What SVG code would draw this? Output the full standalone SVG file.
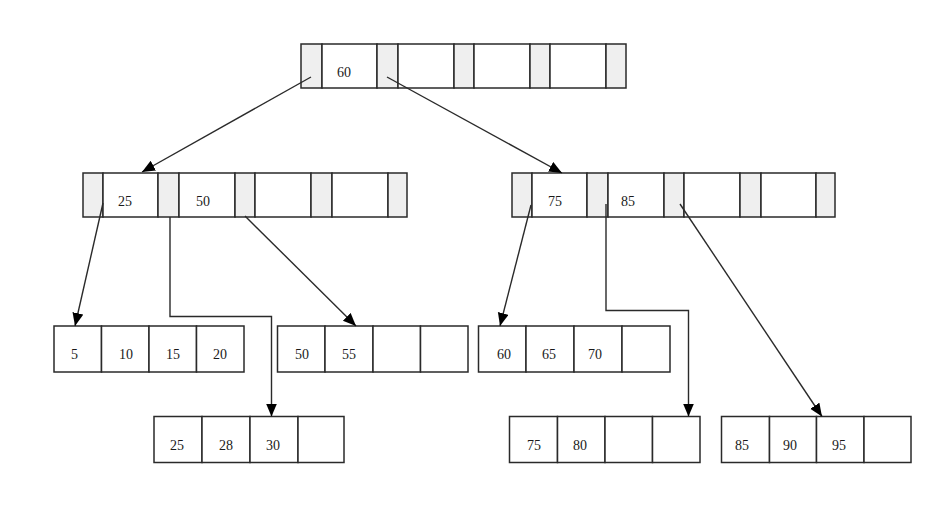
<svg xmlns="http://www.w3.org/2000/svg" width="943" height="517" viewBox="0 0 943 517">
<defs>
<style>
.p{fill:#efefef;stroke:#2a2a2a;stroke-width:1.5}
.k{fill:#fff;stroke:#2a2a2a;stroke-width:1.5}
.t{font-family:"Liberation Serif","Times New Roman",serif;font-size:14px;fill:#1a1a1a}
.c{fill:none;stroke:#2a2a2a;stroke-width:1.4}
</style>
<marker id="ah" markerUnits="userSpaceOnUse" markerWidth="14" markerHeight="12" refX="13" refY="5.5" orient="auto">
<path d="M0,0 L13,5.5 L0,11 z" fill="#000"/>
</marker>
</defs>
<rect width="943" height="517" fill="#fff"/>
<g id="root">
<rect class="p" x="301" y="44" width="21" height="44"/>
<rect class="k" x="322" y="44" width="55" height="44"/>
<rect class="p" x="377" y="44" width="21" height="44"/>
<rect class="k" x="398" y="44" width="56" height="44"/>
<rect class="p" x="454" y="44" width="20" height="44"/>
<rect class="k" x="474" y="44" width="56" height="44"/>
<rect class="p" x="530" y="44" width="20" height="44"/>
<rect class="k" x="550" y="44" width="56" height="44"/>
<rect class="p" x="606" y="44" width="20" height="44"/>
<text class="t" x="337" y="77">60</text>
</g>
<g id="n25_50">
<rect class="p" x="83" y="173" width="20" height="44"/>
<rect class="k" x="103" y="173" width="55" height="44"/>
<rect class="p" x="158" y="173" width="21" height="44"/>
<rect class="k" x="179" y="173" width="56" height="44"/>
<rect class="p" x="235" y="173" width="20" height="44"/>
<rect class="k" x="255" y="173" width="56" height="44"/>
<rect class="p" x="311" y="173" width="21" height="44"/>
<rect class="k" x="332" y="173" width="56" height="44"/>
<rect class="p" x="388" y="173" width="19" height="44"/>
<text class="t" x="118" y="206">25</text>
<text class="t" x="196" y="206">50</text>
</g>
<g id="n75_85">
<rect class="p" x="512" y="173" width="20" height="44"/>
<rect class="k" x="532" y="173" width="55" height="44"/>
<rect class="p" x="587" y="173" width="21" height="44"/>
<rect class="k" x="608" y="173" width="56" height="44"/>
<rect class="p" x="664" y="173" width="20" height="44"/>
<rect class="k" x="684" y="173" width="56" height="44"/>
<rect class="p" x="740" y="173" width="21" height="44"/>
<rect class="k" x="761" y="173" width="55" height="44"/>
<rect class="p" x="816" y="173" width="19" height="44"/>
<text class="t" x="548" y="206">75</text>
<text class="t" x="621" y="206">85</text>
</g>
<g id="leaf5">
<rect class="k" x="54" y="326" width="47.5" height="46"/>
<rect class="k" x="101.5" y="326" width="47.5" height="46"/>
<rect class="k" x="149" y="326" width="47.5" height="46"/>
<rect class="k" x="196.5" y="326" width="47.5" height="46"/>
<text class="t" x="71" y="359">5</text>
<text class="t" x="119" y="359">10</text>
<text class="t" x="166" y="359">15</text>
<text class="t" x="213" y="359">20</text>
</g>
<g id="leaf50">
<rect class="k" x="277.5" y="326" width="47.5" height="46"/>
<rect class="k" x="325" y="326" width="48" height="46"/>
<rect class="k" x="373" y="326" width="47.5" height="46"/>
<rect class="k" x="420.5" y="326" width="47.5" height="46"/>
<text class="t" x="295" y="359">50</text>
<text class="t" x="342" y="359">55</text>
</g>
<g id="leaf60">
<rect class="k" x="478.5" y="326" width="47.5" height="46"/>
<rect class="k" x="526" y="326" width="48" height="46"/>
<rect class="k" x="574" y="326" width="48" height="46"/>
<rect class="k" x="622" y="326" width="48" height="46"/>
<text class="t" x="497" y="359">60</text>
<text class="t" x="542" y="359">65</text>
<text class="t" x="588" y="359">70</text>
</g>
<g id="leaf25">
<rect class="k" x="154" y="416.5" width="48" height="46"/>
<rect class="k" x="202" y="416.5" width="48" height="46"/>
<rect class="k" x="250" y="416.5" width="48" height="46"/>
<rect class="k" x="298" y="416.5" width="46" height="46"/>
<text class="t" x="170" y="450">25</text>
<text class="t" x="219" y="450">28</text>
<text class="t" x="266" y="450">30</text>
</g>
<g id="leaf75">
<rect class="k" x="509.5" y="416.5" width="48" height="46"/>
<rect class="k" x="557.5" y="416.5" width="47.5" height="46"/>
<rect class="k" x="605" y="416.5" width="47.5" height="46"/>
<rect class="k" x="652.5" y="416.5" width="47.5" height="46"/>
<text class="t" x="527" y="450">75</text>
<text class="t" x="573" y="450">80</text>
</g>
<g id="leaf85">
<rect class="k" x="721.5" y="416.5" width="48" height="46"/>
<rect class="k" x="769.5" y="416.5" width="47" height="46"/>
<rect class="k" x="816.5" y="416.5" width="47.5" height="46"/>
<rect class="k" x="864" y="416.5" width="47" height="46"/>
<text class="t" x="735" y="450">85</text>
<text class="t" x="783" y="450">90</text>
<text class="t" x="832" y="450">95</text>
</g>
<g id="connectors">
<line class="c" x1="311" y1="77" x2="142" y2="172" marker-end="url(#ah)"/>
<line class="c" x1="387" y1="77" x2="562" y2="173" marker-end="url(#ah)"/>
<line class="c" x1="103" y1="203" x2="75" y2="326" marker-end="url(#ah)"/>
<polyline class="c" points="170,217 170,316.5 271.5,316.5 271.5,416.5" marker-end="url(#ah)"/>
<line class="c" x1="245" y1="216" x2="356" y2="326" marker-end="url(#ah)"/>
<line class="c" x1="531" y1="205" x2="500" y2="326" marker-end="url(#ah)"/>
<polyline class="c" points="606,204 606,310.5 688.5,310.5 688.5,416.5" marker-end="url(#ah)"/>
<line class="c" x1="680" y1="204" x2="822" y2="416.5" marker-end="url(#ah)"/>
</g>
</svg>
